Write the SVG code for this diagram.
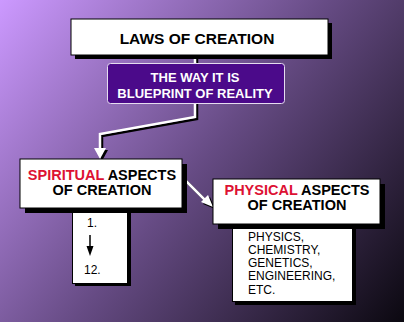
<svg xmlns="http://www.w3.org/2000/svg" width="404" height="322" viewBox="0 0 404 322">
<defs>
<linearGradient id="bg" gradientUnits="userSpaceOnUse" x1="0" y1="0" x2="404" y2="322">
<stop offset="0" stop-color="#cc99ff"/>
<stop offset="0.5" stop-color="#664b84"/>
<stop offset="1" stop-color="#0b0810"/>
</linearGradient>
<style>
text{font-family:"Liberation Sans",Arial,sans-serif;font-weight:bold;fill:#000}
.box{fill:#fff;stroke:#000;stroke-width:1}
.sh{fill:#000}
.red{fill:#dd1133}
.small{font-size:12px;font-weight:normal}
.wl{fill:none;stroke:#fff;stroke-width:2.5;stroke-linejoin:miter}
.bl{fill:none;stroke:#000;stroke-width:2.5;stroke-linejoin:miter}
</style>
</defs>
<rect width="404" height="322" fill="url(#bg)"/>

<g id="connectors">
<path class="bl" d="M197 56V64M197 104V119L102 136V150"/>
<path class="wl" d="M195 55V63M195 103V117L100 134V148"/>
<polygon points="97,150 108,150 102,161" fill="#000"/>
<polygon points="94,148 106,148 100,159" fill="#fff"/>
<path class="bl" d="M184 179L207 202"/>
<path class="wl" d="M182 177L205 200"/>
<polygon points="215,209 203,204 210,197" fill="#000"/>
<polygon points="213,207 201,202 208,195" fill="#fff"/>
</g>

<g id="laws">
<rect class="sh" x="75" y="23" width="257" height="36"/>
<rect class="box" x="71" y="19" width="257" height="36"/>
<text x="197" y="44" font-size="15.5" text-anchor="middle">LAWS OF CREATION</text>
</g>

<g id="way">
<rect x="107.5" y="63.5" width="177" height="40" rx="3" fill="#4b0a8a" stroke="#e6dcf0" stroke-width="1"/>
<text x="195" y="82" font-size="13" text-anchor="middle" style="fill:#fff">THE WAY IT IS</text>
<text x="195" y="98" font-size="13" text-anchor="middle" style="fill:#fff">BLUEPRINT OF REALITY</text>
</g>

<g id="spiritual-list">
<rect class="sh" x="75" y="211" width="56" height="75"/>
<rect class="box" x="72.5" y="208.5" width="55" height="75"/>
<text class="small" x="87" y="227">1.</text>
<line x1="90" y1="235" x2="90" y2="247" stroke="#000" stroke-width="1.5"/>
<polygon points="86.5,246 93.5,246 90,256" fill="#000"/>
<text class="small" x="84" y="274">12.</text>
</g>

<g id="spiritual">
<rect class="sh" x="25" y="164" width="162" height="49"/>
<rect class="box" x="20" y="159" width="162" height="49"/>
<text x="102" y="180" font-size="14.5" text-anchor="middle"><tspan class="red">SPIRITUAL</tspan> ASPECTS</text>
<text x="102" y="195" font-size="14.5" text-anchor="middle">OF CREATION</text>
</g>

<g id="physical-list">
<rect class="sh" x="235" y="227" width="121" height="78"/>
<rect class="box" x="232.5" y="224.5" width="120" height="77"/>
<text class="small" x="248" y="241">PHYSICS,</text>
<text class="small" x="248" y="254">CHEMISTRY,</text>
<text class="small" x="248" y="267">GENETICS,</text>
<text class="small" x="248" y="280">ENGINEERING,</text>
<text class="small" x="248" y="294">ETC.</text>
</g>

<g id="physical">
<rect class="sh" x="218" y="184" width="167" height="45"/>
<rect class="box" x="213" y="179" width="167" height="45"/>
<text x="297" y="195" font-size="14.5" text-anchor="middle"><tspan class="red">PHYSICAL</tspan> ASPECTS</text>
<text x="297" y="210" font-size="14.5" text-anchor="middle">OF CREATION</text>
</g>
</svg>
